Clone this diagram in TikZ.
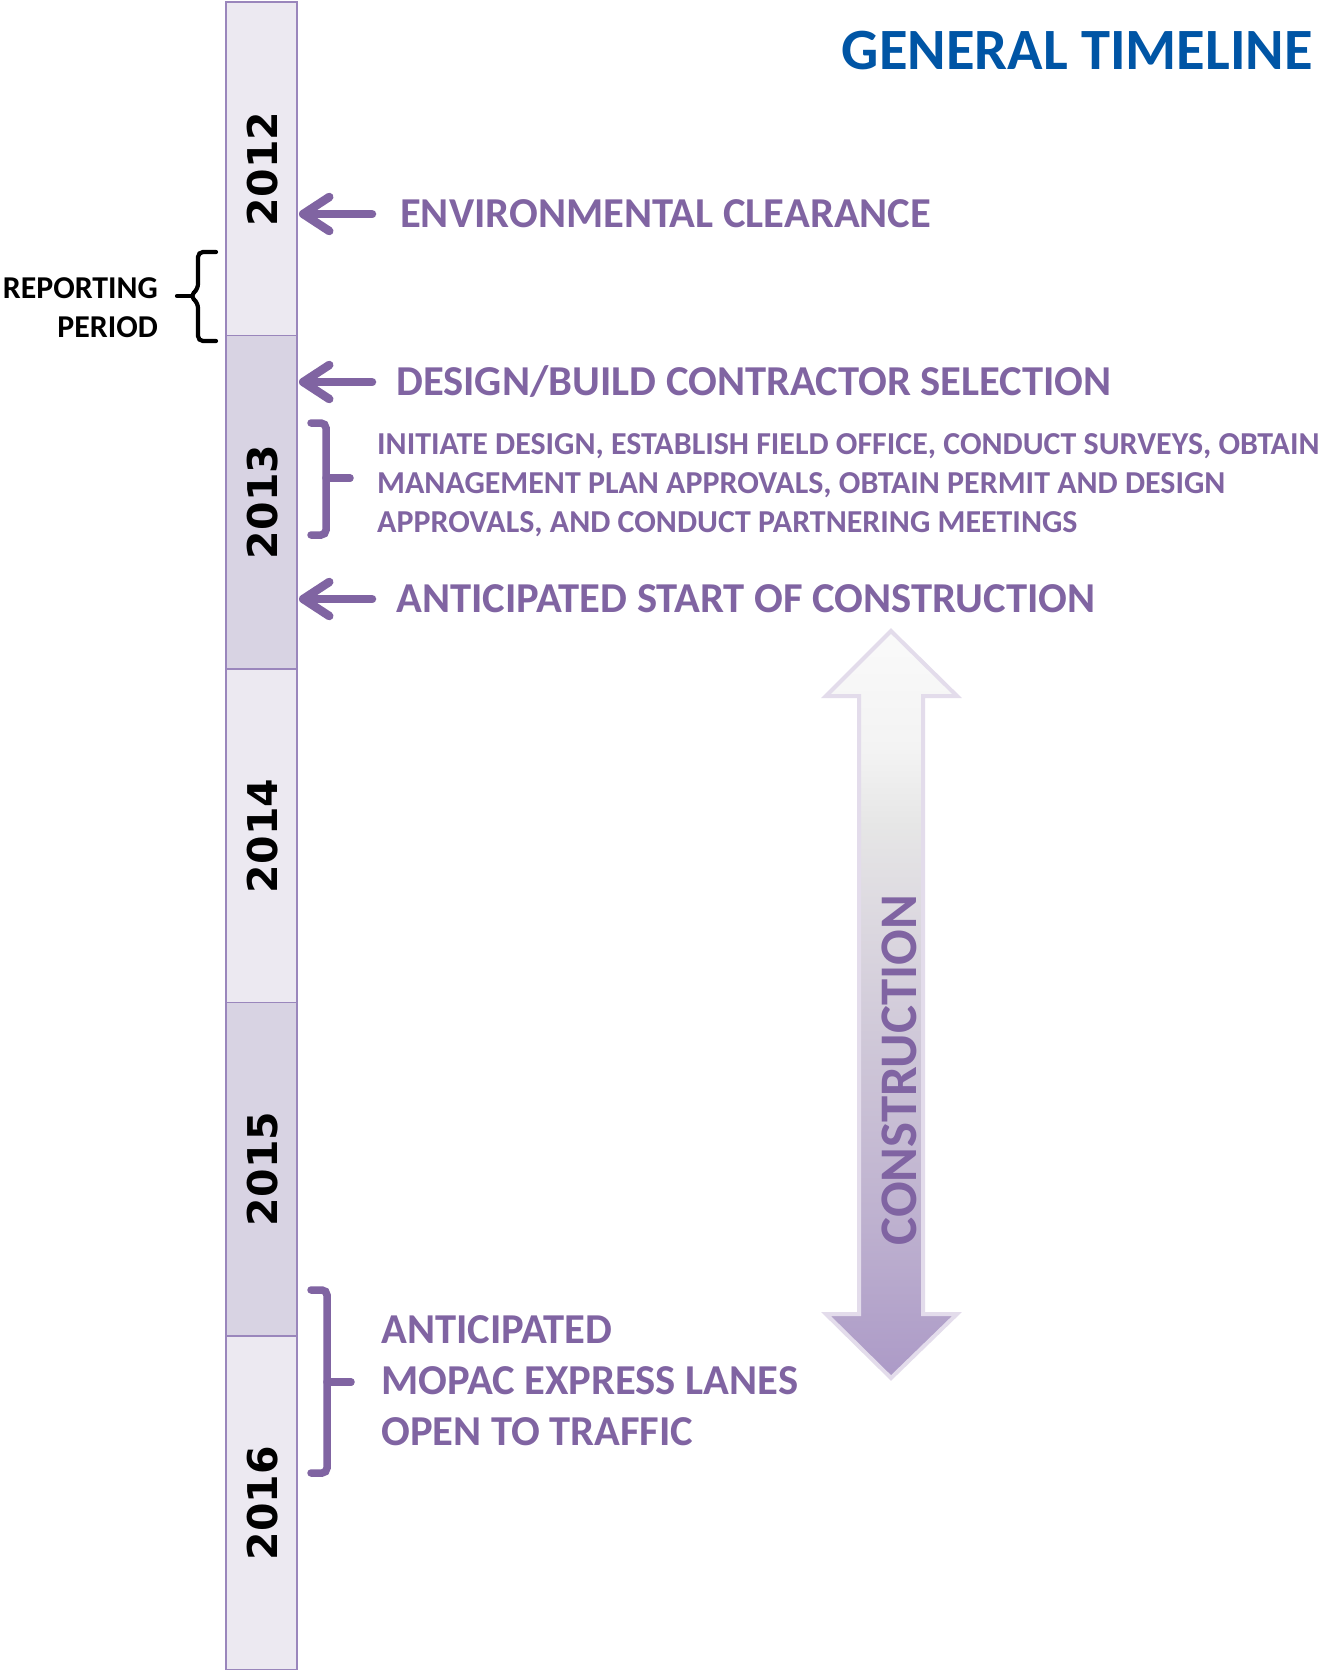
\documentclass[tikz,border=0pt]{standalone}
\usepackage{fontspec}
\setmainfont{Carlito}
\newfontfamily\yearf{DejaVu Sans}
\usetikzlibrary{arrows.meta,calc}
\definecolor{purp}{HTML}{8064A2}
\definecolor{tblue}{HTML}{0055A5}
\definecolor{barL}{HTML}{ECE9F1}
\definecolor{barD}{HTML}{D8D3E3}
\definecolor{barE}{HTML}{9A86BC}
\definecolor{cOut}{HTML}{E3DCEB}
\definecolor{sA}{HTML}{AC9AC7}
\definecolor{sB}{HTML}{BDB0CF}
\definecolor{sC}{HTML}{CDC5D7}
\definecolor{sD}{HTML}{DEDBE1}
\definecolor{sE}{HTML}{E6E6E6}
\definecolor{sF}{HTML}{F3F3F3}
\definecolor{sG}{HTML}{FAFAFA}
\pgfdeclareverticalshading{consshade}{100bp}{color(0bp)=(sA); color(25bp)=(sA); color(35bp)=(sB); color(46bp)=(sC); color(57bp)=(sD); color(62bp)=(sE); color(67bp)=(sF); color(75bp)=(sG); color(100bp)=(sG)}
\begin{document}
\begin{tikzpicture}[x=1pt,y=-1pt,
  seg/.style={draw=barE, line width=1.5pt, minimum width=71pt, minimum height=333.5pt, inner sep=0pt},
  yr/.style={rotate=90, inner sep=0pt, font=\yearf\bfseries\fontsize{41}{41}\selectfont},
  big/.style={anchor=base west, inner sep=0pt, text=purp, font=\bfseries\fontsize{42.6}{42.6}\selectfont},
  small/.style={anchor=base west, inner sep=0pt, text=purp, font=\bfseries\fontsize{31.95}{31.95}\selectfont},
  shd/.style={preaction={draw=black, draw opacity=0.16, transform canvas={shift={(2pt,-3pt)}}}},
  arr/.style={shd, draw=purp, line width=8.5pt, line cap=round, line join=round, -{Straight Barb[length=26pt,width=34pt,round]}},
  brk/.style={shd, draw=purp, line width=7.5pt, rounded corners=5pt, line cap=round},
  rbr/.style={draw=black, line width=4.2pt, rounded corners=5pt, line cap=round}]
\useasboundingbox (0,0) rectangle (1319,1670);
\fill[white] (0,0) rectangle (1319,1670);

% timeline bar
\node[seg, fill=barL] (s12) at (261.5,168.75) {};
\node[seg, fill=barD] (s13) at (261.5,502.25) {};
\node[seg, fill=barL] (s14) at (261.5,835.75) {};
\node[seg, fill=barD] (s15) at (261.5,1169.25) {};
\node[seg, fill=barL] (s16) at (261.5,1502.75) {};
\node[yr] (y12) at (262.5,169) {2012};
\node[yr] (y13) at (262.5,502) {2013};
\node[yr] (y14) at (262.5,836) {2014};
\node[yr] (y15) at (262.5,1169) {2015};
\node[yr] (y16) at (262.5,1503) {2016};

% title
\node[anchor=base east, inner sep=0pt, text=tblue, font=\bfseries\fontsize{58.5}{58.5}\selectfont] (title) at (1313,70) {GENERAL TIMELINE};

% reporting period
\node[anchor=base east, inner sep=0pt, font=\bfseries\fontsize{31.8}{31.8}\selectfont] (rep1) at (158,298) {REPORTING};
\node[anchor=base east, inner sep=0pt, font=\bfseries\fontsize{31.8}{31.8}\selectfont] (rep2) at (158,337) {PERIOD};
\draw[rbr] (216,252) -- (198,252) -- (198,289) -- (190,296) -- (198,303) -- (198,341) -- (216,341);
\draw[rbr] (192,296) -- (177,296);

% events
\node[big] (env) at (400,227) {ENVIRONMENTAL CLEARANCE};
\node[big] (des) at (396,395.5) {DESIGN/BUILD CONTRACTOR SELECTION};
\node[small] (sm1) at (377,454) {INITIATE DESIGN, ESTABLISH FIELD OFFICE, CONDUCT SURVEYS, OBTAIN};
\node[small] (sm2) at (377,493) {MANAGEMENT PLAN APPROVALS, OBTAIN PERMIT AND DESIGN};
\node[small] (sm3) at (377,532) {APPROVALS, AND CONDUCT PARTNERING MEETINGS};
\node[big] (start) at (396,612.5) {ANTICIPATED START OF CONSTRUCTION};
\node[big] (op1) at (381,1343.5) {ANTICIPATED};
\node[big] (op2) at (381,1394.5) {MOPAC EXPRESS LANES};
\node[big] (op3) at (381,1445.5) {OPEN TO TRAFFIC};

\coordinate (a1) at (299,214);
\coordinate (a2) at (299,382);
\coordinate (a3) at (299,599);
\draw[arr] ($(a1 -| env.west)+(-28,0)$) -- (a1);
\draw[arr] ($(a2 -| des.west)+(-24,0)$) -- (a2);
\draw[arr] ($(a3 -| start.west)+(-24,0)$) -- (a3);

% brackets
\draw[brk] (311,423) -- (326,423) -- (326,535) -- (311,535);
\draw[brk] (326,478) -- (350,478);
\draw[brk] (311,1290) -- (327,1290) -- (327,1473) -- (311,1473);
\draw[brk] (327,1382) -- (351,1382);

% construction double arrow
\path[shading=consshade, draw=cOut, line width=4pt, line join=miter]
  (891,631) -- (957,696) -- (923,696) -- (923,1314) -- (957,1314) -- (891,1378)
  -- (826,1314) -- (859,1314) -- (859,696) -- (826,696) -- cycle;
\node[rotate=90, inner sep=0pt, text=purp, font=\bfseries\fontsize{52.8}{52.8}\selectfont] (cons) at (899,1070) {CONSTRUCTION};
\end{tikzpicture}
\end{document}
